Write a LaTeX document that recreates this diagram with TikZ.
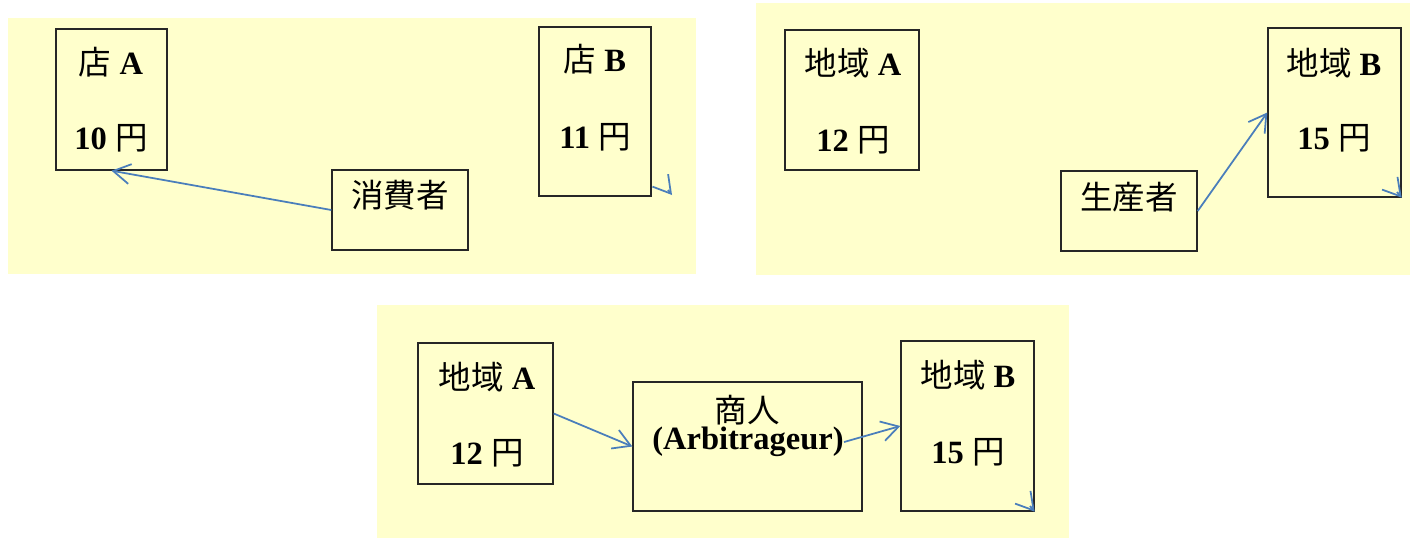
\documentclass[tikz,border=0pt]{standalone}
\usepackage{fontspec}
\setmainfont{Liberation Serif}
\newfontfamily\jpfont{Noto Sans CJK JP}
\newcommand{\jp}[1]{{\mdseries\jpfont #1}}
\usetikzlibrary{arrows.meta}
\definecolor{paneyellow}{RGB}{255,255,204}
\definecolor{arrowblue}{RGB}{74,126,187}
\tikzset{
    PN/.style ={fill=paneyellow},
    BX/.style 2 args ={rectangle, draw=black!85, line width=0.8pt, inner sep=0pt, minimum width=#1cm, minimum height=#2cm},
    TX/.style ={inner sep=0pt, font=\fontsize{18.5}{21}\selectfont\bfseries},
    AR/.style ={draw=arrowblue, line width=1pt, -{Straight Barb[length=0.34cm,width=0.4cm]}}}

\begin{document}
\begin{tikzpicture}[x=0.02cm,y=-0.02cm]
        \useasboundingbox (0,0) rectangle (1416,539);
        \fill[PN] (8,18) rectangle (696,274);
        \fill[PN] (756,3) rectangle (1410,275);
        \fill[PN] (377,305) rectangle (1069,538);
        % shops
        \node[BX={2.22}{2.82}] (shopA) at (111.5,99.5) {};
        \node[BX={2.24}{3.38}] (shopB) at (595,111.5) {};
        \node[BX={2.72}{1.6}] (cons) at (400,210) {};
        \node[TX] (shopAname) at (111,62) {\jp{店} A};
        \node[TX] (shopAprice) at (111,138) {10 \jp{円}};
        \node[TX] (shopBname) at (595,59) {\jp{店} B};
        \node[TX] (shopBprice) at (595,137) {11 \jp{円}};
        \node[TX] (consname) at (400,195) {\jp{消費者}};
        \coordinate (tipB1) at (672,195);
        \coordinate (tailB1) at (668,190);
        \draw[AR] (cons.west) -- (shopA.south);
        \draw[AR] (tailB1) -- (tipB1);
        % producer
        \node[BX={2.68}{2.8}] (areaA) at (852,100) {};
        \node[BX={2.66}{3.38}] (areaB) at (1334.5,112.5) {};
        \node[BX={2.72}{1.6}] (prod) at (1129,211) {};
        \node[TX] (areaAname) at (853,63) {\jp{地域} A};
        \node[TX] (areaAprice) at (853,140) {12 \jp{円}};
        \node[TX] (areaBname) at (1334,63) {\jp{地域} B};
        \node[TX] (areaBprice) at (1334,138) {15 \jp{円}};
        \node[TX] (prodname) at (1129,197) {\jp{生産者}};
        \coordinate (tailB2) at (1397,192);
        \draw[AR] (prod.east) -- (areaB.west);
        \draw[AR] (tailB2) -- (areaB.south east);
        % arbitrage
        \node[BX={2.7}{2.82}] (areaA3) at (485.5,413.5) {};
        \node[BX={4.58}{2.58}] (merch) at (747.5,446.5) {};
        \node[BX={2.66}{3.4}] (areaB3) at (967.5,426) {};
        \node[TX] (areaA3name) at (487,377) {\jp{地域} A};
        \node[TX] (areaA3price) at (487,453) {12 \jp{円}};
        \node[TX] (merchname) at (747,410) {\jp{商人}};
        \node[TX] (arb) at (748,442) {(Arbitrageur)};
        \node[TX] (areaB3name) at (968,375) {\jp{地域} B};
        \node[TX] (areaB3price) at (968,452) {15 \jp{円}};
        \coordinate (tailB3) at (1030,506);
        \draw[AR] (areaA3.east) -- (merch.west);
        \draw[AR] (arb.east) -- (areaB3.west);
        \draw[AR] (tailB3) -- (areaB3.south east);
\end{tikzpicture}
\end{document}
